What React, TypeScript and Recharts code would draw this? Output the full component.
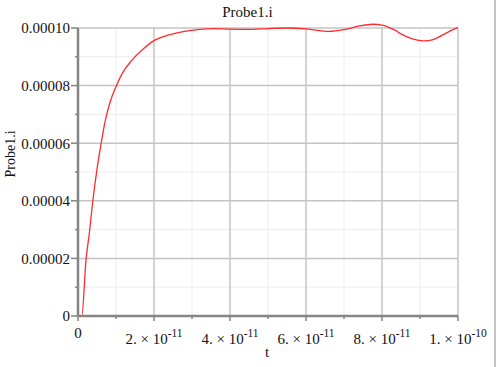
import { LineChart, Line, XAxis, YAxis, ReferenceLine } from 'recharts';

// t in seconds, current in amperes
const tValues = [
  0, 1.0e-12, 2.1e-12, 3.0e-12, 3.9e-12, 5.0e-12, 6.1e-12, 7.2e-12, 8.5e-12, 1.0e-11,
  1.2e-11, 1.4e-11, 1.7e-11, 2.0e-11, 2.4e-11, 2.8e-11, 3.2e-11, 3.6e-11, 4.0e-11, 4.5e-11,
  5.0e-11, 5.5e-11, 6.0e-11, 6.6e-11, 7.0e-11, 7.4e-11, 7.76e-11, 8.0e-11, 8.3e-11, 8.55e-11,
  8.8e-11, 9.1e-11, 9.35e-11, 9.6e-11, 9.8e-11, 1.0e-10,
];
const currentValues = [
  0, 0, 1.94e-5, 2.9e-5, 4.0e-5, 5.1e-5, 6.0e-5, 6.8e-5, 7.45e-5, 7.96e-5,
  8.5e-5, 8.85e-5, 9.25e-5, 9.56e-5, 9.76e-5, 9.88e-5, 9.95e-5, 9.98e-5, 9.96e-5, 9.95e-5,
  9.98e-5, 1.0e-4, 9.97e-5, 9.88e-5, 9.94e-5, 1.007e-4, 1.013e-4, 1.01e-4, 9.95e-5, 9.76e-5,
  9.62e-5, 9.55e-5, 9.6e-5, 9.76e-5, 9.9e-5, 1.002e-4,
];

const xMajorTicks = [0, 2e-11, 4e-11, 6e-11, 8e-11, 1e-10];
const xMinorTicks = [1e-11, 3e-11, 5e-11, 7e-11, 9e-11];
const xTickMantissa = ['0', '2.', '4.', '6.', '8.', '1.'];
const xTickExponent = ['', '-11', '-11', '-11', '-11', '-10'];

const yMajorTicks = [0, 0.00002, 0.00004, 0.00006, 0.00008, 0.0001];
const yMinorTicks = [0.00001, 0.00003, 0.00005, 0.00007, 0.00009];
const yTickLabels = ['0', '0.00002', '0.00004', '0.00006', '0.00008', '0.00010'];

const data = tValues.map((t, i) => ({ t, i: currentValues[i] }));

const FONT = '"Liberation Serif", "Times New Roman", serif';
const AXIS = '#858585';

const majorIndex = (list: number[], v: number) =>
  list.findIndex((m) => Math.abs(m - v) < Math.abs(v) * 1e-6 + 1e-20);

const XTick = (props: any) => {
  const { x, y, payload } = props;
  const idx = majorIndex(xMajorTicks, payload.value);
  if (idx < 0) {
    return <line x1={x} x2={x} y1={y} y2={y + 3} stroke={AXIS} strokeWidth={1.5} />;
  }
  return (
    <g>
      <line x1={x} x2={x} y1={y} y2={y + 5} stroke={AXIS} strokeWidth={1.5} />
      {xTickExponent[idx] === '' ? (
        <text x={x} y={338} textAnchor="middle" fontFamily={FONT} fontSize={15} fill="#111">
          {xTickMantissa[idx]}
        </text>
      ) : (
        <text x={x} y={344} textAnchor="middle" fontFamily={FONT} fontSize={15} fill="#111">
          <tspan>{`${xTickMantissa[idx]} × 10`}</tspan>
          <tspan dy={-7} fontSize={11.5}>{xTickExponent[idx]}</tspan>
        </text>
      )}
    </g>
  );
};

const YTick = (props: any) => {
  const { x, y, payload } = props;
  const idx = majorIndex(yMajorTicks, payload.value);
  if (idx < 0) {
    return <line x1={x - 3} x2={x} y1={y} y2={y} stroke={AXIS} strokeWidth={1.5} />;
  }
  return (
    <g>
      <line x1={x - 7} x2={x} y1={y} y2={y} stroke={AXIS} strokeWidth={1.5} />
      <text x={x - 8} y={y + 5.3} textAnchor="end" fontFamily={FONT} fontSize={15} fill="#111">
        {yTickLabels[idx]}
      </text>
    </g>
  );
};

const allX = [...xMajorTicks, ...xMinorTicks].sort((a, b) => a - b);
const allY = [...yMajorTicks, ...yMinorTicks].sort((a, b) => a - b);

export default function App() {
  return (
    <div style={{ position: 'absolute', left: 0, top: 0, width: 500, height: 367, background: '#fff' }}>
      <style>{'.recharts-wrapper [clip-path] { clip-path: none !important; }'}</style>
      <LineChart width={500} height={367} data={data} margin={{ top: 28, right: 42, bottom: 0, left: 0 }}>
        {xMinorTicks.map((v) => (
          <ReferenceLine key={`xm${v}`} x={v} stroke="#ececec" strokeWidth={1} />
        ))}
        {yMinorTicks.map((v) => (
          <ReferenceLine key={`ym${v}`} y={v} stroke="#ececec" strokeWidth={1} />
        ))}
        {xMajorTicks.map((v) => (
          <ReferenceLine key={`xM${v}`} x={v} stroke="#c4c4c4" strokeWidth={1.5} />
        ))}
        {yMajorTicks.map((v) => (
          <ReferenceLine key={`yM${v}`} y={v} stroke="#c4c4c4" strokeWidth={1.5} />
        ))}
        <XAxis
          type="number"
          dataKey="t"
          domain={[0, 1e-10]}
          ticks={allX}
          interval={0}
          height={51}
          tickLine={false}
          tickSize={0}
          tickMargin={0}
          tick={<XTick />}
          axisLine={{ stroke: AXIS, strokeWidth: 2.5 }}
          allowDataOverflow
        />
        <YAxis
          type="number"
          domain={[0, 0.0001]}
          ticks={allY}
          interval={0}
          width={78}
          tickLine={false}
          tickSize={0}
          tickMargin={0}
          tick={<YTick />}
          axisLine={{ stroke: AXIS, strokeWidth: 2.5 }}
          allowDataOverflow
        />
        <Line
          type="monotone"
          dataKey="i"
          stroke="#ff2b2b"
          strokeWidth={1.3}
          dot={false}
          activeDot={false}
          isAnimationActive={false}
        />
      </LineChart>
      <svg
        width={500}
        height={367}
        style={{ position: 'absolute', left: 0, top: 0, pointerEvents: 'none' }}
      >
        <text x={247.5} y={16.5} textAnchor="middle" fontFamily={FONT} fontSize={15} fill="#111">
          Probe1.i
        </text>
        <text
          x={0}
          y={0}
          transform="translate(15, 154) rotate(-90)"
          textAnchor="middle"
          fontFamily={FONT}
          fontSize={14}
          fill="#111"
        >
          Probe1.i
        </text>
        <text x={267} y={357} textAnchor="middle" fontFamily={FONT} fontSize={15} fill="#111">
          t
        </text>
        <line x1={495} x2={495} y1={0} y2={367} stroke="#b0b0b0" strokeWidth={1.5} />
      </svg>
    </div>
  );
}
